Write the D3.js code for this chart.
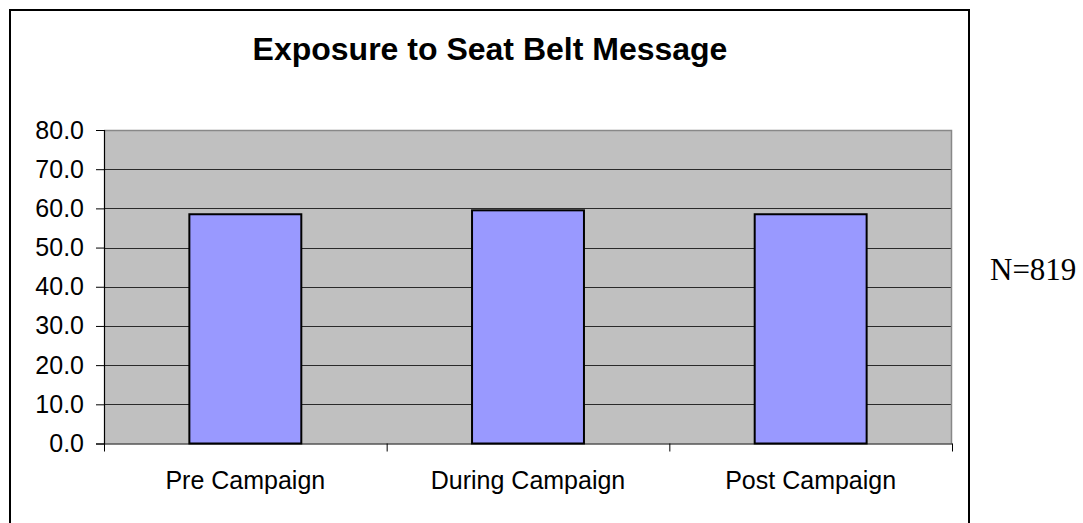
<!DOCTYPE html>
<html>
<head>
<meta charset="utf-8">
<script src="https://cdn.jsdelivr.net/npm/d3@7/dist/d3.min.js"></script>
<style>
  html, body { margin: 0; padding: 0; background: #ffffff; }
  svg { display: block; }
</style>
</head>
<body>
<svg id="chart" width="1083" height="523"></svg>
<script>
// Data
const categories = ["Pre Campaign", "During Campaign", "Post Campaign"];
const values = [58.5, 59.5, 58.5];
const yTicks = [0, 10, 20, 30, 40, 50, 60, 70, 80];
const title = "Exposure to Seat Belt Message";
const note = "N=819";

const svg = d3.select("#chart");
const W = 1083, H = 523;
const plot = { left: 104, right: 952, top: 130, bottom: 443.5 };

// outer chart border (bottom extends beyond view)
svg.append("rect")
  .attr("x", 10).attr("y", 10)
  .attr("width", 959).attr("height", 600)
  .attr("fill", "#ffffff")
  .attr("stroke", "#000000").attr("stroke-width", 2);

const x = d3.scaleBand()
  .domain(categories)
  .range([plot.left, plot.right])
  .paddingInner(0.604)
  .paddingOuter(0.302);

const xIdx = d3.scaleLinear().domain([0, categories.length]).range([plot.left, plot.right]);

const y = d3.scaleLinear().domain([0, 80]).range([plot.bottom, plot.top]);

// plot background
svg.append("rect")
  .attr("x", plot.left).attr("y", plot.top)
  .attr("width", plot.right - plot.left).attr("height", plot.bottom - plot.top)
  .attr("fill", "#c0c0c0");

// gridlines
svg.append("g")
  .selectAll("line")
  .data(yTicks.filter(d => d > 0 && d < 80))
  .join("line")
  .attr("x1", plot.left).attr("x2", plot.right)
  .attr("y1", d => Math.round(y(d)) + 0.5).attr("y2", d => Math.round(y(d)) + 0.5)
  .attr("stroke", "#2a2a2a").attr("stroke-width", 1);

// plot border top/right (gray)
svg.append("path")
  .attr("d", `M${plot.left},${plot.top + 0.5}H${plot.right - 0.5}V${plot.bottom}`)
  .attr("fill", "none")
  .attr("stroke", "#888888").attr("stroke-width", 1.5);

// bars
svg.append("g")
  .selectAll("rect")
  .data(categories.map((c, i) => ({ c, v: values[i] })))
  .join("rect")
  .attr("x", d => x(d.c))
  .attr("y", d => y(d.v))
  .attr("width", x.bandwidth())
  .attr("height", d => plot.bottom - y(d.v))
  .attr("fill", "#9999ff")
  .attr("stroke", "#000000").attr("stroke-width", 2);

// y axis
const yAxis = svg.append("g")
  .attr("transform", `translate(${plot.left},0)`)
  .call(d3.axisLeft(y).tickValues(yTicks).tickFormat(d3.format(".1f")).tickSize(8).tickPadding(12));
yAxis.select(".domain").attr("stroke", "#000").attr("stroke-width", 1.2);
yAxis.selectAll(".tick line").attr("stroke", "#000");
yAxis.selectAll("text")
  .attr("font-family", "Liberation Sans, Arial, sans-serif")
  .attr("font-size", 25)
  .attr("fill", "#000");

// x axis boundary ticks
const xAxis = svg.append("g")
  .attr("transform", `translate(0,${plot.bottom})`)
  .call(d3.axisBottom(xIdx).tickValues(d3.range(categories.length + 1)).tickFormat("").tickSizeInner(8).tickSizeOuter(0));
xAxis.select(".domain").attr("stroke", "#000").attr("stroke-width", 1.2);
xAxis.selectAll(".tick line").attr("stroke", "#000");

// category labels
const xLab = svg.append("g")
  .attr("transform", `translate(0,${plot.bottom})`)
  .call(d3.axisBottom(x).tickSize(0).tickPadding(28));
xLab.select(".domain").remove();
xLab.selectAll("text")
  .attr("font-family", "Liberation Sans, Arial, sans-serif")
  .attr("font-size", 25)
  .attr("fill", "#000");

// title
svg.append("text")
  .attr("x", 490).attr("y", 60)
  .attr("text-anchor", "middle")
  .attr("font-family", "Liberation Sans, Arial, sans-serif")
  .attr("font-weight", "bold")
  .attr("font-size", 32)
  .attr("fill", "#000")
  .text(title);

// note
svg.append("text")
  .attr("x", 990).attr("y", 280)
  .attr("font-family", "Liberation Serif, Times New Roman, serif")
  .attr("font-size", 31)
  .attr("fill", "#000")
  .text(note);
</script>
</body>
</html>
